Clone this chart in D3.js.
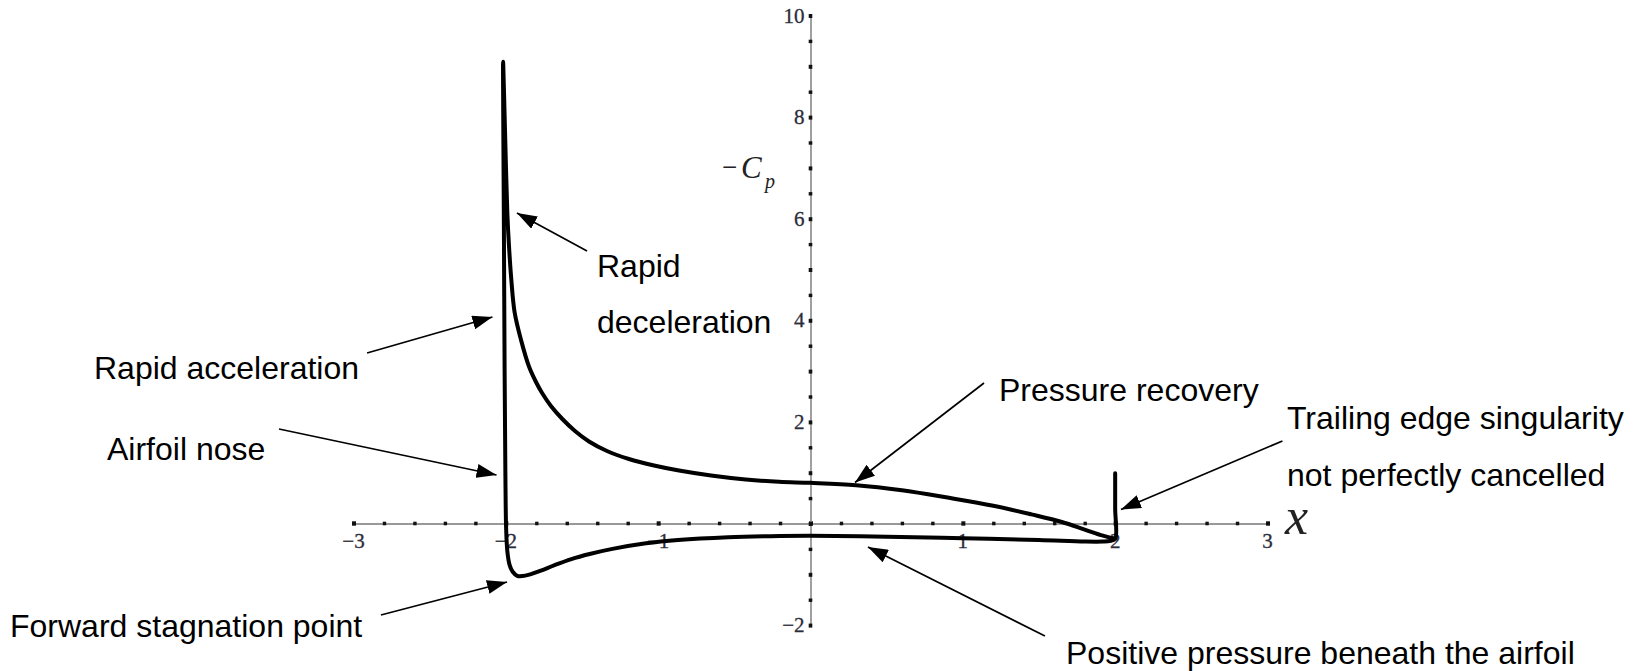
<!DOCTYPE html>
<html><head><meta charset="utf-8">
<script src="https://cdn.jsdelivr.net/npm/d3@7"></script>
<style>body{margin:0;background:#fff} svg{display:block}</style>
</head><body><svg id="c" width="1640" height="671"></svg>
<script>
// ---- data (x, -Cp) ----
const lowerX = [2.0, 2.0, 2.0, 1.97, 1.92, 1.8, 1.5, 1.0, 0.5, 0.0, -0.2, -0.54, -0.87, -1.08, -1.30, -1.45, -1.57, -1.68, -1.77, -1.84, -1.89, -1.925, -1.955, -1.975, -1.99];
const lowerY = [0.99, 0.3, -0.30, -0.34, -0.355, -0.355, -0.325, -0.29, -0.26, -0.24, -0.245, -0.27, -0.325, -0.39, -0.50, -0.60, -0.70, -0.82, -0.93, -1.0, -1.035, -1.03, -0.95, -0.82, -0.55];
const noseX = [-1.998, -2.003, -2.008, -2.013, -2.017, -2.018];
const noseY = [-0.1, 1.0, 3.0, 6.0, 8.0, 9.09];
const upperX = [-2.013, -2.006, -1.998, -1.99, -1.98, -1.964, -1.942, -1.900, -1.848, -1.802, -1.761, -1.704, -1.629, -1.546, -1.454, -1.336, -1.192, -1.027, -0.863, -0.653, -0.425, -0.207, 0.0, 0.3, 0.6, 0.9, 1.2, 1.45, 1.65, 1.8, 1.92, 2.0];
const upperY = [8.6, 7.8, 6.9, 6.1, 5.5, 4.8, 4.15, 3.61, 3.09, 2.785, 2.563, 2.313, 2.057, 1.821, 1.614, 1.427, 1.27, 1.142, 1.043, 0.945, 0.866, 0.82, 0.80, 0.755, 0.655, 0.51, 0.35, 0.18, 0.03, -0.12, -0.24, -0.30];

const xMajorTicks = [-3, -2, -1, 0, 1, 2, 3];
const xTickLabels = ["\u22123", "\u22122", "\u22121", "", "1", "2", "3"];
const yMajorTicks = [-2, 0, 2, 4, 6, 8, 10];
const yTickLabels = ["\u22122", "", "2", "4", "6", "8", "10"];

// annotations: text lines, arrow tail and tip in data units
const annoText = [
  ["Rapid", "deceleration"],
  ["Rapid acceleration"],
  ["Airfoil nose"],
  ["Forward stagnation point"],
  ["Pressure recovery"],
  ["Trailing edge singularity", "not perfectly cancelled"],
  ["Positive pressure beneath the airfoil"]
];
const arrowTailX = [-1.467, -2.911, -3.489, -2.820, 1.139, 3.098, 1.539];
const arrowTailY = [5.364, 3.356, 1.860, -1.801, 2.766, 1.624, -2.215];
const arrowTipX = [-1.927, -2.088, -2.061, -1.992, 0.292, 2.038, 0.377];
const arrowTipY = [6.112, 4.065, 0.955, -1.152, 0.807, 0.276, -0.463];

// ---- layout ----
const labelPos = [[597, 277, 56], [94, 379, 0], [107, 460, 0], [10, 637, 0], [999, 401, 0], [1287, 429, 57], [1066, 664, 0]];

const svg = d3.select("#c");
const x = d3.scaleLinear().domain([-3, 3]).range([353.5, 1267.5]);
const y = d3.scaleLinear().domain([-2, 10]).range([625.1, 15.5]);

const serif = "'Liberation Serif','Times New Roman',serif";
const sans = "'Liberation Sans',Arial,Helvetica,sans-serif";
const tickCol = "#2c2c3a";

// x axis
const xMinor = d3.range(-3, 3.001, 0.2).map(v => Math.round(v * 10) / 10);
const gx = svg.append("g").attr("transform", `translate(0,${y(0)})`)
  .call(d3.axisBottom(x).tickValues(xMinor).tickSize(0).tickSizeOuter(0).tickFormat(""));
gx.select(".domain").attr("stroke", "#777").attr("stroke-width", 1.4);
gx.selectAll(".tick line").attr("y1", -1.8).attr("y2", 1.8).attr("stroke", "#111")
  .attr("stroke-width", d => Number.isInteger(d) ? 4 : 3.4);
gx.selectAll(".tick").filter(d => Number.isInteger(d)).select("line").attr("y1", -2.2).attr("y2", 2.2);
svg.append("g").selectAll("text").data(xMajorTicks).join("text")
  .attr("x", d => x(d)).attr("y", y(0) + 24)
  .attr("text-anchor", "middle").attr("font-family", serif).attr("font-size", 21)
  .attr("fill", tickCol).attr("stroke", tickCol).attr("stroke-width", 0.3)
  .text((d, i) => xTickLabels[i]);

// y axis
const yMinor = d3.range(-2, 10.001, 0.5);
const gy = svg.append("g").attr("transform", `translate(${x(0)},0)`)
  .call(d3.axisLeft(y).tickValues(yMinor).tickSize(0).tickSizeOuter(0).tickFormat(""));
gy.select(".domain").attr("stroke", "#777").attr("stroke-width", 1.4);
gy.selectAll(".tick line").attr("x1", -1.8).attr("x2", 1.8).attr("stroke", "#111")
  .attr("stroke-width", d => Number.isInteger(d) ? 4 : 3.4);
svg.append("g").selectAll("text").data(yMajorTicks).join("text")
  .attr("x", x(0) - 6).attr("y", d => y(d) + 7)
  .attr("text-anchor", "end").attr("font-family", serif).attr("font-size", 21)
  .attr("fill", tickCol).attr("stroke", tickCol).attr("stroke-width", 0.3)
  .text((d, i) => yTickLabels[i]);

// axis titles
const cp = svg.append("g").attr("font-family", serif).attr("fill", "#222");
cp.append("text").attr("x", 722).attr("y", 176).attr("font-size", 27).text("\u2212");
cp.append("text").attr("x", 741).attr("y", 178).attr("font-size", 31).attr("font-style", "italic").text("C");
cp.append("text").attr("x", 765).attr("y", 188).attr("font-size", 20).attr("font-style", "italic").text("p");
svg.append("text").attr("x", 1285).attr("y", 534).attr("font-family", serif)
  .attr("font-style", "italic").attr("font-size", 52).attr("fill", "#222").text("x");

// curve
const pts = [];
lowerX.forEach((v, i) => pts.push([v, lowerY[i]]));
noseX.forEach((v, i) => pts.push([v, noseY[i]]));
upperX.forEach((v, i) => pts.push([v, upperY[i]]));
const line = d3.line().x(d => x(d[0])).y(d => y(d[1])).curve(d3.curveCatmullRom.alpha(0.5));
svg.append("path").attr("d", line(pts)).attr("fill", "none").attr("stroke", "#000")
  .attr("stroke-width", 4).attr("stroke-linejoin", "round").attr("stroke-linecap", "round");

// arrows
svg.append("defs").append("marker").attr("id", "ah")
  .attr("markerUnits", "userSpaceOnUse").attr("viewBox", "0 0 20 14")
  .attr("markerWidth", 20).attr("markerHeight", 14).attr("refX", 20).attr("refY", 7)
  .attr("orient", "auto").append("path").attr("d", "M0,0L20,7L0,14Z").attr("fill", "#000");
svg.append("g").selectAll("line").data(arrowTailX).join("line")
  .attr("x1", (d, i) => x(arrowTailX[i])).attr("y1", (d, i) => y(arrowTailY[i]))
  .attr("x2", (d, i) => x(arrowTipX[i])).attr("y2", (d, i) => y(arrowTipY[i]))
  .attr("stroke", "#000").attr("stroke-width", 1.7).attr("marker-end", "url(#ah)");

// labels
const lg = svg.append("g").attr("font-family", sans).attr("font-size", 32).attr("fill", "#000");
annoText.forEach((lines, i) => {
  const [lx, ly, dy] = labelPos[i];
  lines.forEach((t, j) => lg.append("text").attr("x", lx).attr("y", ly + j * dy).text(t));
});
</script></body></html>
